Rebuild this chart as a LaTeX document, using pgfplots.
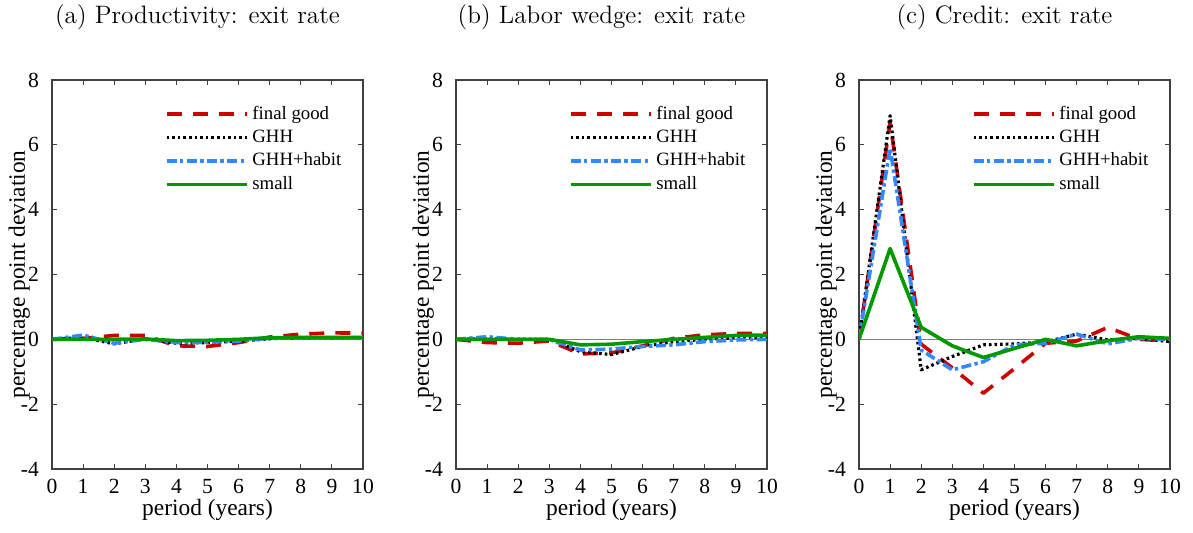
\documentclass[border=0pt]{standalone}
\usepackage{pgfplots}
\usepackage{pgfplotstable}
\pgfplotsset{compat=1.18}
\usepackage{fontspec}
\newfontfamily\tnr{Liberation Serif}

\definecolor{cred}{RGB}{205,0,0}
\definecolor{cblue}{RGB}{51,136,255}
\definecolor{cgreen}{RGB}{0,153,0}

\pgfplotstableread{
x fg ghh hab sm
0 0 0 0 0
1 0.03 0.06 0.13 0
2 0.12 -0.14 -0.12 0
3 0.12 0.02 0.0 0.01
4 -0.2 -0.12 -0.1 -0.04
5 -0.22 -0.1 -0.09 -0.03
6 -0.1 -0.06 -0.05 0.0
7 0.07 0.02 0.03 0.05
8 0.16 0.05 0.05 0.06
9 0.2 0.05 0.05 0.06
10 0.19 0.05 0.05 0.06
}\tabA

\pgfplotstableread{
x fg ghh hab sm
0 0 0 0 0
1 -0.1 0.02 0.08 0
2 -0.12 0 0 0
3 -0.05 0 0 0
4 -0.45 -0.38 -0.33 -0.17
5 -0.42 -0.47 -0.3 -0.15
6 -0.2 -0.22 -0.22 -0.07
7 0.03 -0.07 -0.17 0.0
8 0.14 0.0 -0.07 0.06
9 0.18 0.05 -0.02 0.12
10 0.18 0.06 0.0 0.13
}\tabB

\pgfplotstableread{
x fg ghh hab sm
0 0 0 0 0
1 6.7 6.9 5.9 2.8
2 -0.15 -0.94 -0.33 0.37
3 -0.88 -0.53 -0.94 -0.2
4 -1.66 -0.17 -0.69 -0.56
5 -0.9 -0.14 -0.17 -0.28
6 -0.12 -0.08 -0.12 0.0
7 -0.05 0.16 0.16 -0.2
8 0.37 -0.02 -0.14 -0.04
9 0.0 0.03 0.03 0.08
10 -0.05 -0.07 0.0 0.03
}\tabC

\pgfplotsset{
  panel/.style={
    scale only axis, width=155.5pt, height=194.5pt,
    xmin=0, xmax=10, ymin=-4, ymax=8,
    xtick={0,1,2,3,4,5,6,7,8,9,10},
    xticklabels={0,1,2,3,4,5,6,7,8,9,10},
    ytick={-4,-2,0,2,4,6,8},
    yticklabels={-4,-2,0,2,4,6,8},
    tick label style={font=\tnr\fontsize{10.8}{12}\selectfont, black},
    xticklabel style={yshift=-1.5pt},
    yticklabel style={xshift=-3pt},
    label style={font=\tnr\fontsize{11.7}{13}\selectfont},
    tick align=inside, major tick length=2.5pt,
    axis line style={black!75, line width=0.6pt},
    every tick/.style={black!75, line width=0.5pt},
    ylabel={percentage point deviation},
    xlabel={period (years)},
    ylabel style={at={(axis description cs:-0.105,0.5)}, anchor=center},
    xlabel style={at={(axis description cs:0.5,0)}, anchor=center, yshift=-20.5pt},
    title style={at={(axis description cs:0.5,1)}, anchor=center, yshift=25.5pt, xshift=-5pt, font=\fontsize{12.6}{14}\selectfont},
    legend style={draw=none, fill=none, font=\tnr\fontsize{9.4}{11}\selectfont,
      at={(0.342,0.955)}, anchor=north west, row sep=-0.2pt},
    legend cell align=left,
    legend image code/.code={\draw[##1] (0pt,0pt) -- (40pt,0pt);},
  },
  fg/.style={cred, line width=1.8pt, line join=round, dash pattern=on 7.5pt off 5.5pt},
  ghh/.style={black, line width=1.6pt, line join=round, dash pattern=on 1.3pt off 1.5pt},
  hab/.style={cblue, line width=1.8pt, line join=round, dash pattern=on 5pt off 1.7pt on 1.7pt off 1.7pt},
  sm/.style={cgreen, line width=1.8pt, line join=round},
}

\begin{document}
\begin{tikzpicture}
\path[use as bounding box] (0,0) rectangle (596.5pt,266pt);

\begin{axis}[panel, at={(26pt,31.5pt)}, anchor=south west, title={(a) Productivity: exit rate}]
\addplot[gray, line width=0.5pt, forget plot] coordinates {(0,0) (10,0)};
\addplot[fg] table[x=x,y=fg] {\tabA};
\addplot[ghh] table[x=x,y=ghh] {\tabA};
\addplot[hab] table[x=x,y=hab] {\tabA};
\addplot[sm] table[x=x,y=sm] {\tabA};
\legend{final good, GHH, GHH+habit, small}
\end{axis}

\begin{axis}[panel, at={(228pt,31.5pt)}, anchor=south west, title={(b) Labor wedge: exit rate}]
\addplot[gray, line width=0.5pt, forget plot] coordinates {(0,0) (10,0)};
\addplot[fg] table[x=x,y=fg] {\tabB};
\addplot[ghh] table[x=x,y=ghh] {\tabB};
\addplot[hab] table[x=x,y=hab] {\tabB};
\addplot[sm] table[x=x,y=sm] {\tabB};
\legend{final good, GHH, GHH+habit, small}
\end{axis}

\begin{axis}[panel, at={(429.5pt,31.5pt)}, anchor=south west, title={(c) Credit: exit rate}]
\addplot[gray, line width=0.5pt, forget plot] coordinates {(0,0) (10,0)};
\addplot[fg] table[x=x,y=fg] {\tabC};
\addplot[ghh] table[x=x,y=ghh] {\tabC};
\addplot[hab] table[x=x,y=hab] {\tabC};
\addplot[sm] table[x=x,y=sm] {\tabC};
\legend{final good, GHH, GHH+habit, small}
\end{axis}
\end{tikzpicture}
\end{document}
